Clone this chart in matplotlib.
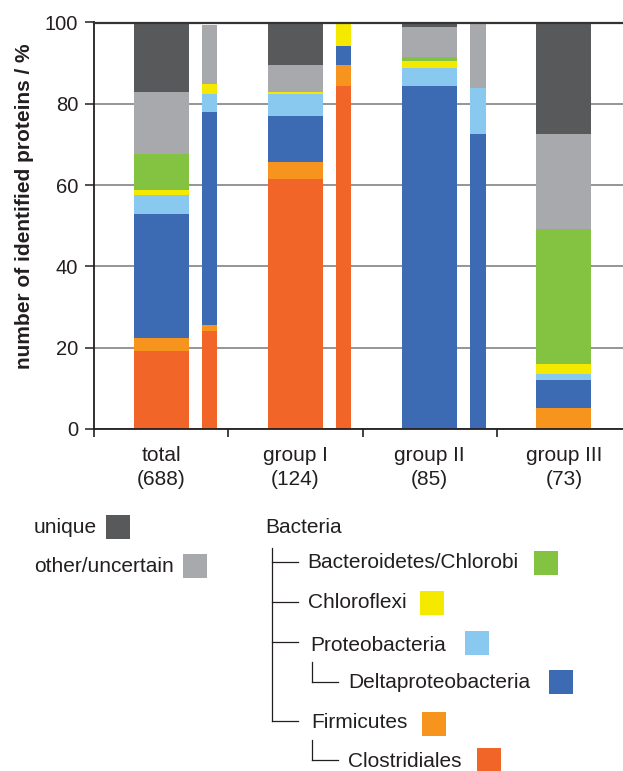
import numpy as np
import matplotlib as mpl
mpl.use("Agg")
from matplotlib import pyplot as plt
from matplotlib.patches import Rectangle
from matplotlib.lines import Line2D

plt.rcParams['font.family'] = ['Liberation Sans', 'DejaVu Sans']

W, H = 623, 771
ink = '#231f20'

groups = ["total\n(688)", "group I\n(124)", "group II\n(85)", "group III\n(73)"]

# stacking order, bottom -> top
taxa = ["Clostridiales", "Firmicutes", "Deltaproteobacteria", "Proteobacteria",
        "Chloroflexi", "Bacteroidetes/Chlorobi", "other/uncertain", "unique"]
colors = ['#f26529', '#f7941e', '#3d6bb3', '#8ac9ef',
          '#f5e900', '#84c241', '#a7a9ac', '#58595b']

# wide bars (% of identified proteins per group)
clostridiales = [19.3, 61.6, 0.0, 0.0]
firmicutes = [3.2, 4.2, 0.0, 5.2]
deltaproteo = [30.3, 11.1, 84.3, 6.9]
proteo = [4.7, 5.4, 4.6, 1.5]
chloroflexi = [1.4, 0.6, 1.6, 2.5]
bacteroidetes = [8.8, 0.0, 0.9, 33.2]
other = [15.2, 6.6, 7.5, 23.2]
unique = [17.1, 10.5, 1.1, 27.5]

# narrow bars next to total, group I and group II
clostridiales_n = [24.0, 84.3, 0.0]
firmicutes_n = [1.5, 5.2, 0.0]
deltaproteo_n = [52.6, 4.7, 72.5]
proteo_n = [4.2, 0.0, 11.3]
chloroflexi_n = [2.5, 5.4, 0.0]
bacteroidetes_n = [0.0, 0.0, 0.0]
other_n = [14.5, 0.0, 15.8]
unique_n = [0.0, 0.0, 0.0]

wide = [clostridiales, firmicutes, deltaproteo, proteo,
        chloroflexi, bacteroidetes, other, unique]
narrow = [clostridiales_n, firmicutes_n, deltaproteo_n, proteo_n,
          chloroflexi_n, bacteroidetes_n, other_n, unique_n]


def fx(px):
    return px / W


def fy(py):
    return 1 - py / H


fig = plt.figure(figsize=(W / 100, H / 100), dpi=100)
ax = fig.add_axes([fx(94), fy(429), (W - 94) / W, (429 - 22.5) / H])

x = np.arange(len(groups))
xn = np.arange(len(narrow[0])) + 0.36

bottom = np.zeros(len(groups))
for vals, c in zip(wide, colors):
    ax.bar(x, vals, width=0.41, bottom=bottom, color=c, linewidth=0)
    bottom += np.array(vals)

bottom = np.zeros(len(xn))
for vals, c in zip(narrow, colors):
    ax.bar(xn, vals, width=0.112, bottom=bottom, color=c, linewidth=0)
    bottom += np.array(vals)

ax.set_xlim(-0.5, 3.44)
ax.set_ylim(0, 100)
ax.set_axisbelow(True)
ax.yaxis.grid(True, color='#8c8c8c', lw=1.3)
ax.set_yticks([0, 20, 40, 60, 80, 100])
ax.set_xticks(x)
ax.set_xticklabels(groups, fontsize=15, color=ink, linespacing=1.35)
ax.set_xticks([-0.5, 0.5, 1.5, 2.5], minor=True)
ax.tick_params(axis='x', which='major', length=0, pad=12)
ax.tick_params(axis='x', which='minor', length=5.5, width=1.2, color=ink, direction='out')
ax.tick_params(axis='y', length=6.5, width=1.1, color=ink, labelsize=14.5, labelcolor=ink, pad=5)

ax.spines['right'].set_visible(False)
ax.spines['top'].set_color('#333333')
ax.spines['top'].set_linewidth(1.6)
for s in ['left', 'bottom']:
    ax.spines[s].set_color(ink)
    ax.spines[s].set_linewidth(1.3)

fig.text(fx(25), fy(206.5), "number of identified proteins / %", rotation=90,
         ha='center', va='center', fontsize=15, fontweight='bold', color=ink)

# legend: text baseline position, swatch left edge (pixels)
cmap = dict(zip(taxa, colors))
legend_items = [
    ("unique", 34, 533, 106, 515),
    ("other/uncertain", 34, 572, 183, 554),
    ("Bacteroidetes/Chlorobi", 307, 568, 534, 551),
    ("Chloroflexi", 308, 608, 420, 591),
    ("Proteobacteria", 310, 651, 465, 631),
    ("Deltaproteobacteria", 348, 688, 549, 670),
    ("Firmicutes", 311, 728, 422, 712),
    ("Clostridiales", 348, 767, 477, 748),
]
for name, tx, ty, sx, sy in legend_items:
    fig.text(fx(tx), fy(ty), name, fontsize=15, color=ink, va='baseline', ha='left')
    fig.add_artist(Rectangle((fx(sx), fy(sy + 24)), 24 / W, 24 / H,
                             transform=fig.transFigure, color=cmap[name], lw=0))

fig.text(fx(265), fy(533), "Bacteria", fontsize=15, color=ink, va='baseline', ha='left')

# taxonomy tree
tree = [
    ((272, 272), (548, 721)),
    ((272, 298), (562, 562)),
    ((272, 298), (602, 602)),
    ((272, 298), (642, 642)),
    ((272, 298), (721, 721)),
    ((312, 312), (662, 682)),
    ((312, 338), (682, 682)),
    ((312, 312), (740, 760)),
    ((312, 338), (760, 760)),
]
for xs, ys in tree:
    fig.add_artist(Line2D([fx(v) for v in xs], [fy(v) for v in ys],
                          transform=fig.transFigure, color=ink, lw=0.9))

fig.savefig("out.png", dpi=100)
